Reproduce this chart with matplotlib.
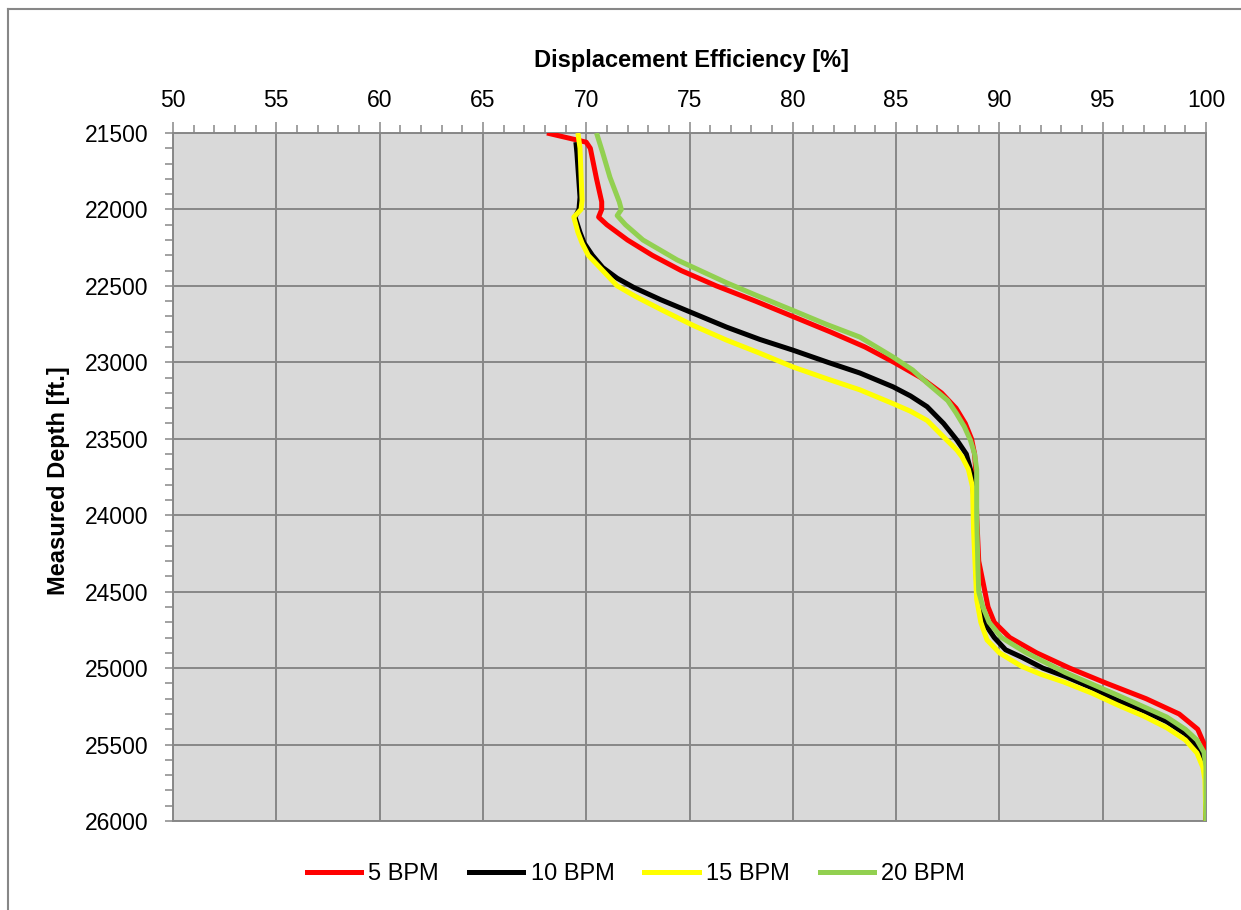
import matplotlib
matplotlib.use("Agg")
import matplotlib.pyplot as plt
from matplotlib.ticker import MultipleLocator
from matplotlib.lines import Line2D

plt.rcParams['font.family'] = ['Liberation Sans', 'DejaVu Sans']

# Data (efficiency %, measured depth ft)
red_eff = [68.1, 70.0, 70.2, 70.5, 70.75, 70.75, 70.6, 71.0, 71.5, 72.0, 73.2, 74.6, 76.3, 78.2, 80.0,
           81.8, 83.5, 84.9, 86.2, 87.2, 87.9, 88.35, 88.65, 88.8, 88.85, 88.9, 89.0, 89.15, 89.3,
           89.45, 89.75, 90.5, 91.8, 93.4, 95.2, 97.1, 98.7, 99.6, 99.92, 100.0, 100.0]
red_depth = [21500, 21560, 21600, 21800, 21950, 22000, 22050, 22100, 22150, 22200, 22300, 22400, 22500,
             22600, 22700, 22800, 22900, 23000, 23100, 23200, 23300, 23400, 23500, 23600, 23700, 24000,
             24300, 24400, 24500, 24600, 24700, 24800, 24900, 25000, 25100, 25200, 25300, 25400, 25500,
             25600, 26000]

black_eff = [69.5, 69.55, 69.7, 69.65, 69.46, 69.7, 69.9, 70.3, 70.8, 71.5, 72.3, 73.6, 75.2, 76.8,
             78.4, 80.0, 81.7, 83.25, 84.85, 85.7, 86.5, 87.3, 87.95, 88.4, 88.7, 88.8, 88.9, 89.05,
             89.4, 89.75, 90.3, 91.1, 92.1, 93.2, 94.5, 95.7, 97.0, 98.1, 99.0, 99.56, 99.9, 100.0, 100.0]
black_depth = [21560, 21630, 21920, 22000, 22050, 22150, 22220, 22300, 22380, 22450, 22510, 22590,
               22680, 22770, 22850, 22920, 23000, 23070, 23160, 23220, 23290, 23400, 23510, 23600,
               23750, 24000, 24470, 24600, 24730, 24800, 24880, 24930, 25000, 25055, 25130, 25210,
               25280, 25350, 25430, 25516, 25600, 25706, 26000]

yellow_eff = [69.6, 69.7, 69.8, 69.75, 69.4, 69.6, 69.8, 70.1, 70.8, 71.5, 72.4, 73.7, 75.2, 76.8,
              78.4, 80.0, 81.7, 83.25, 84.85, 85.7, 86.5, 87.2, 87.95, 88.2, 88.5, 88.7, 88.75, 88.9,
              89.1, 89.4, 90.0, 90.6, 91.1, 92.0, 93.1, 94.5, 95.7, 97.0, 98.1, 99.0, 99.56, 99.85,
              99.95, 100.0]
yellow_depth = [21500, 21600, 21940, 22000, 22050, 22150, 22220, 22300, 22400, 22500, 22570, 22660,
                22760, 22855, 22940, 23030, 23110, 23180, 23270, 23320, 23380, 23475, 23575, 23620,
                23700, 23815, 24100, 24550, 24700, 24816, 24900, 24950, 24990, 25040, 25090, 25165,
                25240, 25315, 25390, 25470, 25555, 25650, 25731, 26000]

green_eff = [70.5, 70.8, 71.15, 71.6, 71.7, 71.5, 71.9, 72.75, 74.4, 76.8, 78.2, 80.0, 81.6, 83.25,
             84.85, 85.8, 86.5, 87.5, 87.9, 88.3, 88.6, 88.8, 88.9, 88.9, 88.96, 89.0, 89.2, 89.5,
             90.1, 91.3, 93.2, 95.7, 98.1, 99.0, 99.56, 99.9, 100.0, 100.0]
green_depth = [21500, 21630, 21790, 21950, 22000, 22040, 22100, 22200, 22330, 22480, 22560, 22660,
               22750, 22835, 22965, 23050, 23135, 23250, 23330, 23420, 23510, 23600, 23700, 24000,
               24340, 24500, 24600, 24700, 24800, 24900, 25030, 25176, 25320, 25400, 25470, 25550,
               25645, 26000]

series_labels = ["5 BPM", "10 BPM", "15 BPM", "20 BPM"]
series_colors = ["#ff0000", "#000000", "#ffff00", "#92d050"]

x_ticks = list(range(50, 101, 5))
y_ticks = list(range(21500, 26001, 500))

fig = plt.figure(figsize=(12.41, 9.10), dpi=100)
ax = fig.add_axes([173/1241, 1-821/910, (1206-173)/1241, (821-133)/910])
ax.set_facecolor("#d9d9d9")

series = [(red_eff, red_depth), (black_eff, black_depth), (yellow_eff, yellow_depth), (green_eff, green_depth)]
for (e, d), lab, col in zip(series, series_labels, series_colors):
    ax.plot(e, d, color=col, lw=3.6, label=lab, solid_joinstyle='round', solid_capstyle='butt', zorder=3)

ax.set_xlim(50, 100)
ax.set_ylim(26000, 21500)
ax.set_xticks(x_ticks)
ax.set_yticks(y_ticks)
ax.xaxis.set_minor_locator(MultipleLocator(1))
ax.yaxis.set_minor_locator(MultipleLocator(100))
ax.xaxis.tick_top()
ax.xaxis.set_label_position('top')
ax.grid(True, which='major', color='#878787', lw=1.4, zorder=1)
ax.set_axisbelow(True)
for s in ax.spines.values():
    s.set_color('#878787')
    s.set_linewidth(1.4)
ax.tick_params(axis='both', which='both', color='#878787', width=1.1, labelsize=16.5, direction='out')
ax.tick_params(axis='x', which='major', length=8, pad=7)
ax.tick_params(axis='x', which='minor', length=6)
ax.tick_params(axis='y', which='major', length=6, pad=12)
ax.tick_params(axis='y', which='minor', length=6)

fig.text(691/1241, 1-61/910, "Displacement Efficiency [%]", fontsize=17, fontweight='bold',
         ha='center', va='center')
fig.text(59/1241, 1-481/910, "Measured Depth [ft.]", rotation=90, fontsize=17, fontweight='bold',
         ha='center', va='center')

handles = [Line2D([0], [0], color=c, lw=3.6) for c in series_colors]
fig.legend(handles, series_labels, loc='center', bbox_to_anchor=(636/1241, 1-874/910), ncol=4,
           frameon=False, fontsize=17, handlelength=2.3, handletextpad=0.3, columnspacing=1.27)

# outer chart frame
fig.add_artist(Line2D([8/1241, 8/1241], [0, 1-9/910], color='#878787', lw=1.5, transform=fig.transFigure))
fig.add_artist(Line2D([8/1241, 1], [1-9/910, 1-9/910], color='#878787', lw=1.5, transform=fig.transFigure))

fig.savefig("out.png", dpi=100)
